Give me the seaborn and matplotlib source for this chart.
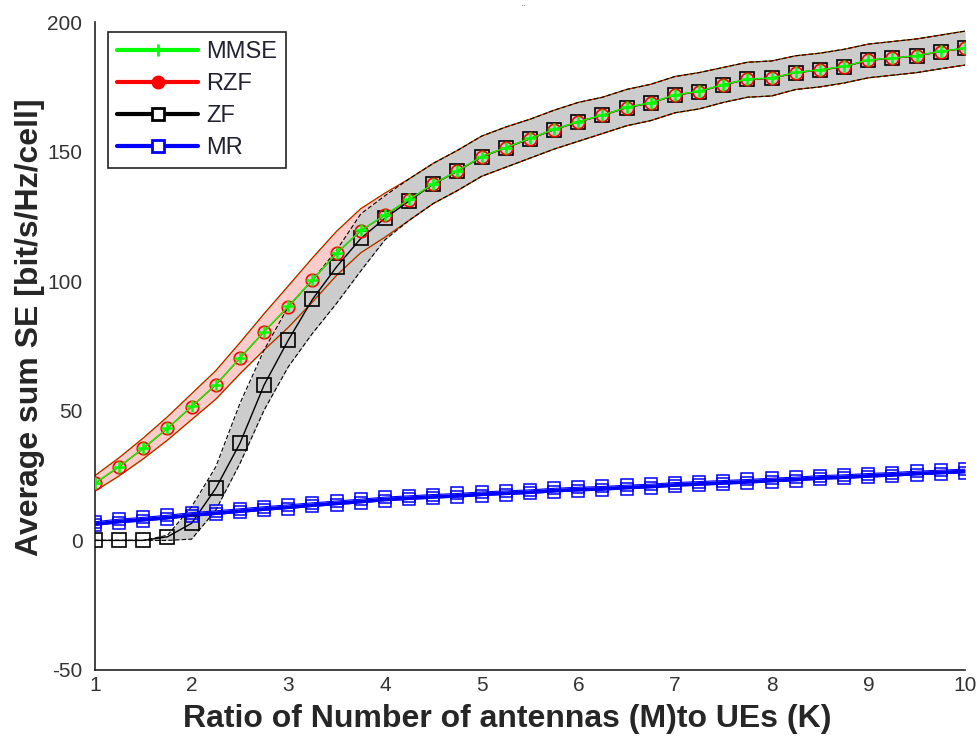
import matplotlib
matplotlib.use("Agg")
import matplotlib.pyplot as plt
import seaborn as sns
from matplotlib.lines import Line2D

# -----------------------------
# DATA
# -----------------------------
RATIO = [1.0, 1.25, 1.5, 1.75, 2.0, 2.25, 2.5, 2.75, 3.0, 3.25, 3.5, 3.75, 4.0,
         4.25, 4.5, 4.75, 5.0, 5.25, 5.5, 5.75, 6.0, 6.25, 6.5, 6.75, 7.0,
         7.25, 7.5, 7.75, 8.0, 8.25, 8.5, 8.75, 9.0, 9.25, 9.5, 9.75, 10.0]

RZF = [22.0, 28.4, 35.5, 43.2, 51.6, 60.0, 70.3, 80.5, 90.2, 100.5, 110.8, 119.5, 125.5,
       131.5, 137.5, 142.5, 148.0, 151.5, 155.0, 158.5, 161.5, 164.0, 167.0, 168.8, 171.8,
       173.2, 175.8, 177.9, 178.3, 180.5, 181.5, 182.8, 185.3, 186.0, 187.0, 188.6, 189.9]
MMSE = [22.1, 28.5, 35.6, 43.3, 51.7, 60.1, 70.4, 80.6, 90.3, 100.6, 110.9, 119.6, 125.6,
        131.6, 137.6, 142.6, 148.1, 151.6, 155.1, 158.6, 161.6, 164.1, 167.1, 168.9, 171.9,
        173.3, 175.9, 178.0, 178.4, 180.6, 181.6, 182.9, 185.4, 186.1, 187.1, 188.7, 190.0]
RZF_LOW = [19.0, 24.9, 31.5, 38.7, 46.6, 54.5, 64.3, 73.5, 82.2, 92.0, 102.3, 111.0, 117.0,
           123.5, 130.0, 135.0, 140.5, 144.0, 147.5, 151.0, 154.0, 157.0, 160.0, 162.0, 165.0,
           166.5, 169.0, 171.0, 171.5, 174.0, 175.0, 176.5, 178.5, 179.5, 180.5, 182.0, 183.4]
RZF_HIGH = [25.0, 31.9, 39.5, 47.7, 56.6, 65.5, 76.3, 87.5, 98.2, 109.0, 119.3, 128.0, 134.0,
            139.5, 145.5, 150.5, 156.0, 159.5, 162.5, 166.0, 169.0, 171.0, 174.0, 176.0, 179.0,
            180.5, 182.5, 184.5, 185.0, 187.0, 188.0, 189.5, 191.5, 192.5, 193.5, 195.0, 196.5]

ZF = [0.0, 0.0, 0.0, 1.4, 6.6, 20.1, 37.5, 60.0, 77.3, 93.0, 105.6, 116.5, 124.3,
      131.0, 137.5, 142.5, 148.0, 151.5, 155.0, 158.5, 161.5, 164.0, 167.0, 168.8, 171.8,
      173.2, 175.8, 177.9, 178.3, 180.5, 181.5, 182.8, 185.3, 186.0, 187.0, 188.6, 189.9]
ZF_LOW = [0.0, 0.0, 0.0, 0.0, 0.5, 11.7, 29.7, 50.3, 67.0, 79.9, 91.5, 104.0, 116.0,
          123.5, 130.0, 135.0, 140.5, 144.0, 147.5, 151.0, 154.0, 157.0, 160.0, 162.0, 165.0,
          166.5, 169.0, 171.0, 171.5, 174.0, 175.0, 176.5, 178.5, 179.5, 180.5, 182.0, 183.4]
ZF_HIGH = [0.0, 0.0, 0.0, 2.0, 13.0, 28.4, 52.9, 73.5, 90.2, 100.5, 112.0, 126.0, 133.0,
           139.5, 145.5, 150.5, 156.0, 159.5, 162.5, 166.0, 169.0, 171.0, 174.0, 176.0, 179.0,
           180.5, 182.5, 184.5, 185.0, 187.0, 188.0, 189.5, 191.5, 192.5, 193.5, 195.0, 196.5]

MR = [6.5, 7.5, 8.2, 9.0, 10.0, 10.7, 11.5, 12.3, 13.0, 13.8, 14.5, 15.2, 16.0,
      16.5, 17.0, 17.4, 18.0, 18.4, 18.8, 19.4, 19.8, 20.1, 20.6, 21.0, 21.6,
      22.0, 22.4, 22.8, 23.3, 23.7, 24.3, 24.6, 25.1, 25.5, 26.0, 26.4, 26.8]
MR_LOW = [5.8, 6.8, 7.5, 8.3, 9.3, 10.0, 10.8, 11.6, 12.3, 13.1, 13.8, 14.5, 15.3,
          15.8, 16.3, 16.7, 17.3, 17.7, 18.1, 18.7, 19.1, 19.4, 19.9, 20.3, 20.9,
          21.3, 21.7, 22.1, 22.6, 23.0, 23.6, 23.9, 24.4, 24.8, 25.3, 25.7, 26.1]
MR_HIGH = [7.2, 8.2, 8.9, 9.7, 10.7, 11.4, 12.2, 13.0, 13.7, 14.5, 15.2, 15.9, 16.7,
           17.2, 17.7, 18.1, 18.7, 19.1, 19.5, 20.1, 20.5, 20.8, 21.3, 21.7, 22.3,
           22.7, 23.1, 23.5, 24.0, 24.4, 25.0, 25.3, 25.8, 26.2, 26.7, 27.1, 27.5]

SCHEMES = ["MMSE", "RZF", "ZF", "MR"]
X_TICKS = [1, 2, 3, 4, 5, 6, 7, 8, 9, 10]
Y_TICKS = [-50, 0, 50, 100, 150, 200]

GREEN, RED, BLACK, BLUE = "#00FF00", "#FF0000", "#000000", "#0000FF"

# -----------------------------
# PLOT SETUP
# -----------------------------
sns.set_style("white")
plt.rcParams["font.family"] = ["Liberation Sans", "DejaVu Sans"]
plt.rcParams["axes.unicode_minus"] = False

fig = plt.figure(figsize=(9.78, 7.36), dpi=100)
ax = fig.add_axes([0.0971, 0.0897, 0.8896, 0.8803])

# -----------------------------
# CONFIDENCE BANDS
# -----------------------------
ax.fill_between(RATIO, RZF_LOW, RZF_HIGH, color=RED, alpha=0.2, lw=0, zorder=1)
ax.fill_between(RATIO, ZF_LOW, ZF_HIGH, color="#CCCCCC", lw=0, zorder=1.5)
ax.fill_between(RATIO, MR_LOW, MR_HIGH, color=BLUE, lw=0, zorder=1.5)

for band in (RZF_LOW, RZF_HIGH):
    sns.lineplot(x=RATIO, y=band, ax=ax, color=GREEN, lw=0.9, zorder=2, legend=False)
    sns.lineplot(x=RATIO, y=band, ax=ax, color=RED, lw=0.8, zorder=2.1, legend=False)
for band in (ZF_LOW, ZF_HIGH):
    sns.lineplot(x=RATIO, y=band, ax=ax, color=BLACK, lw=0.8, ls=(0, (4, 2)),
                 zorder=2.2, legend=False)

# -----------------------------
# MAIN CURVES
# -----------------------------
sns.lineplot(x=RATIO, y=ZF, ax=ax, color=BLACK, lw=1, marker="s", markersize=10,
             markerfacecolor="none", markeredgecolor=BLACK, markeredgewidth=1.2,
             zorder=3, legend=False)
sns.lineplot(x=RATIO, y=RZF, ax=ax, color=RED, lw=1, marker="o", markersize=9,
             markerfacecolor="none", markeredgecolor=RED, markeredgewidth=1.2,
             zorder=4, legend=False)
sns.lineplot(x=RATIO, y=MMSE, ax=ax, color=GREEN, lw=1, marker="+", markersize=8,
             markeredgecolor=GREEN, markeredgewidth=1.8, zorder=5, legend=False)

for band in (MR_LOW, MR_HIGH):
    sns.lineplot(x=RATIO, y=band, ax=ax, color=BLUE, lw=0.8, marker="s", markersize=9,
                 markerfacecolor="none", markeredgecolor=BLUE, markeredgewidth=1.1,
                 zorder=6, legend=False)
sns.lineplot(x=RATIO, y=MR, ax=ax, color=BLUE, lw=1, zorder=6, legend=False)

# -----------------------------
# AXES
# -----------------------------
ax.set_xlim(1, 10)
ax.set_ylim(-50, 200)
ax.set_xticks(X_TICKS)
ax.set_yticks(Y_TICKS)
ax.tick_params(axis="both", direction="in", length=6, width=1, color=BLACK,
               labelsize=15, labelcolor="#333333")
ax.tick_params(axis="x", pad=4)
ax.tick_params(axis="y", pad=9)
for side in ("top", "right"):
    ax.spines[side].set_visible(False)
for side in ("left", "bottom"):
    ax.spines[side].set_color("#222222")
    ax.spines[side].set_linewidth(1.2)

ax.set_xlabel("Ratio of Number of antennas (M)to UEs (K)", fontsize=23, weight="bold")
ax.set_ylabel("Average sum SE [bit/s/Hz/cell]", fontsize=23, weight="bold")
ax.xaxis.set_label_coords(0.4735, -0.052)
ax.yaxis.set_label_coords(-0.057, 0.529)
ax.grid(False)

# -----------------------------
# LEGEND
# -----------------------------
handles = [
    Line2D([], [], color=GREEN, lw=3, marker="+", markersize=9, markeredgewidth=2),
    Line2D([], [], color=RED, lw=3, marker="o", markersize=9),
    Line2D([], [], color=BLACK, lw=3, marker="s", markersize=9,
           markerfacecolor="white", markeredgewidth=2),
    Line2D([], [], color=BLUE, lw=3, marker="s", markersize=9,
           markerfacecolor="white", markeredgewidth=2),
]
leg = ax.legend(handles, SCHEMES, loc="upper left", bbox_to_anchor=(0.015, 0.985),
                borderaxespad=0, fontsize=17, handlelength=3.4, handletextpad=0.35,
                labelspacing=0.42, borderpad=0.4, fancybox=False, framealpha=1,
                edgecolor="#222222")
leg.get_frame().set_linewidth(1.2)
for t in leg.get_texts():
    t.set_color("#222233")

fig.text(0.535, 0.993, "¨", fontsize=8, color="#555555", ha="center", va="top")

fig.savefig("out.png", dpi=100)
plt.close(fig)
